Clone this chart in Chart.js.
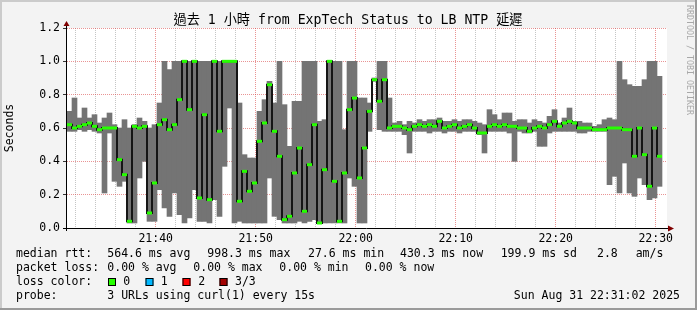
<!DOCTYPE html>
<html><head><meta charset="utf-8">
<script src="https://cdn.jsdelivr.net/npm/chart.js@4/dist/chart.umd.min.js"></script>
<style>html,body{margin:0;padding:0;background:#f3f3f3;overflow:hidden}canvas{display:block}</style>
</head><body>
<canvas id="c" width="697" height="310"></canvas>
<script>
// time axis: minutes after 21:00, one column every 30 s
const startMinute = 31.13;
const stepMinute = 0.5;
const spanMinutes = 60;

const smokeMin = [
 0.58,0.58,0.59,0.58,0.59,0.58,0.57,0.21,0.57,0.28,
 0.25,0.28,0.03,0.03,0.30,0.40,0.04,0.04,0.23,0.12,
 0.07,0.21,0.08,0.03,0.06,0.23,0.04,0.04,0.03,0.17,
 0.07,0.37,0.72,0.03,0.04,0.03,0.03,0.03,0.03,0.03,
 0.30,0.07,0.05,0.03,0.03,0.03,0.04,0.03,0.04,0.05,
 0.03,0.03,0.03,0.03,0.03,0.03,0.30,0.25,0.03,0.03,
 0.58,0.88,0.59,0.58,0.58,
 0.58,0.58,0.56,0.45,0.58,0.58,0.58,0.57,0.58,0.58,
 0.57,0.58,0.58,0.57,0.58,0.58,0.58,0.56,0.45,0.58,
 0.58,0.58,0.58,0.57,0.40,0.58,0.57,0.57,0.58,0.49,
 0.49,0.57,0.58,0.58,0.58,0.58,0.58,0.57,0.57,0.58,
 0.58,0.58,0.58,0.26,0.31,0.21,0.39,0.21,0.19,0.30,
 0.26,0.17,0.18,0.25
];
const smokeMax = [
 0.70,0.78,0.66,0.72,0.66,0.68,0.63,0.66,0.69,0.62,
 0.60,0.65,0.60,0.62,0.66,0.64,0.60,0.62,0.75,1.00,
 0.95,1.00,1.00,1.00,1.00,1.00,1.00,1.00,1.00,1.00,
 1.00,1.00,1.00,1.00,0.75,0.44,0.42,0.42,0.70,0.77,
 0.88,0.75,1.00,0.74,0.49,0.76,0.76,1.00,1.00,1.00,
 0.64,0.65,1.00,1.00,1.00,0.59,1.00,1.00,0.78,0.78,
 0.75,0.90,1.00,1.00,0.78,
 0.63,0.64,0.62,0.64,0.63,0.65,0.64,0.65,0.65,0.66,
 0.64,0.64,0.65,0.64,0.65,0.65,0.64,0.63,0.62,0.71,
 0.68,0.65,0.69,0.69,0.64,0.65,0.65,0.63,0.65,0.64,
 0.63,0.67,0.71,0.63,0.66,0.72,0.64,0.64,0.63,0.63,
 0.61,0.62,0.65,0.66,0.65,1.00,0.89,0.86,0.85,0.85,
 0.89,1.00,1.00,0.91
];
const medianRtt = [
 0.62,0.60,0.61,0.62,0.63,0.61,0.59,0.60,0.60,0.60,
 0.41,0.32,0.04,0.61,0.60,0.61,0.09,0.27,0.62,0.65,
 0.59,0.62,0.77,1.00,0.71,1.00,0.18,0.68,0.17,1.00,
 0.58,1.00,1.00,1.00,0.16,0.34,0.22,0.27,0.52,0.63,
 0.86,0.58,0.43,0.05,0.07,0.33,0.48,0.10,0.38,0.62,
 0.03,0.35,1.00,0.28,0.04,0.33,0.71,0.78,0.30,0.48,
 0.70,0.89,0.76,0.89,0.60,
 0.61,0.61,0.60,0.59,0.61,0.62,0.61,0.62,0.61,0.64,
 0.60,0.61,0.62,0.60,0.61,0.62,0.60,0.57,0.57,0.61,
 0.62,0.61,0.62,0.61,0.61,0.60,0.60,0.58,0.60,0.61,
 0.60,0.62,0.64,0.61,0.63,0.64,0.63,0.60,0.60,0.60,
 0.59,0.59,0.59,0.60,0.60,0.60,0.59,0.59,0.43,0.60,
 0.44,0.25,0.60,0.43
];
const xTickMinutes = [32,34,36,38,40,42,44,46,48,50,52,54,56,58,60,62,64,66,68,70,72,74,76,78,80,82,84,86,88,90];
const xTickLabels = {40:'21:40',50:'21:50',60:'22:00',70:'22:10',80:'22:20',90:'22:30'};
const yTickValues = [0,0.1,0.2,0.3,0.4,0.5,0.6,0.7,0.8,0.9,1.0,1.1,1.2];

const titleText = '過去 1 小時 from ExpTech Status to LB NTP 延遲';
const legendRows = [
 [[16,'median rtt:'],[107.3,'564.6 ms avg'],[207.3,'998.3 ms max'],[308,'27.6 ms min'],[400,'430.3 ms now'],[500.7,'199.9 ms sd'],[597,'2.8'],[635.7,'am/s']],
 [[16,'packet loss:'],[107.3,'0.00 % avg'],[193.3,'0.00 % max'],[279.3,'0.00 % min'],[365,'0.00 % now']],
 [[16,'loss color:'],[123.3,'0'],[160.7,'1'],[198.3,'2'],[235,'3/3']],
 [[16,'probe:'],[107.3,'3 URLs using curl(1) every 15s']]
];
const lossBoxes = [[108,'#26ff00'],[145.5,'#00b8ff'],[182.5,'#ff0000'],[219.5,'#a10000']];
const stampText = 'Sun Aug 31 22:31:02 2025';

const times = smokeMin.map((_, i) => startMinute + stepMinute * (i + 0.5));
const MONO = '"DejaVu Sans Mono", "Noto Sans CJK TC", monospace';
const GRID_MINOR = 'rgba(150,150,150,0.55)';
const GRID_MAJOR = 'rgba(215,60,60,0.55)';

const decor = {
  id: 'decor',
  beforeDraw(chart) {
    const ctx = chart.ctx, a = chart.chartArea;
    ctx.save();
    ctx.fillStyle = '#f3f3f3'; ctx.fillRect(0, 0, 697, 310);
    ctx.fillStyle = '#cbcbcb'; ctx.fillRect(0, 0, 697, 2); ctx.fillRect(0, 0, 2, 310);
    ctx.fillStyle = '#9a9a9a'; ctx.fillRect(0, 308, 697, 2); ctx.fillRect(695, 0, 2, 310);
    ctx.fillStyle = '#ffffff'; ctx.fillRect(a.left, a.top, a.right - a.left, a.bottom - a.top);
    ctx.restore();
  },
  afterDraw(chart) {
    const ctx = chart.ctx, a = chart.chartArea;
    ctx.save();
    // axes
    ctx.strokeStyle = '#000'; ctx.lineWidth = 1;
    ctx.beginPath();
    ctx.moveTo(a.left - 0.5, a.bottom + 3); ctx.lineTo(a.left - 0.5, a.top - 5);
    ctx.moveTo(a.left - 4, a.bottom + 0.5); ctx.lineTo(a.right + 3, a.bottom + 0.5);
    ctx.stroke();
    ctx.fillStyle = '#800000';
    ctx.beginPath();
    ctx.moveTo(a.left - 3.5, a.top - 2); ctx.lineTo(a.left + 2.5, a.top - 2); ctx.lineTo(a.left - 0.5, a.top - 7); ctx.closePath(); ctx.fill();
    ctx.beginPath();
    ctx.moveTo(a.right + 1, a.bottom - 2.5); ctx.lineTo(a.right + 1, a.bottom + 3.5); ctx.lineTo(a.right + 7, a.bottom + 0.5); ctx.closePath(); ctx.fill();
    // title
    ctx.fillStyle = '#000';
    ctx.font = '13.2px ' + MONO;
    ctx.textBaseline = 'middle'; ctx.textAlign = 'center';
    ctx.fillText(titleText, 348, 21);
    // legend
    ctx.font = '11.5px ' + MONO; ctx.textAlign = 'left';
    const rowY = [254, 268, 282, 296];
    legendRows.forEach((row, r) => row.forEach(([x, t]) => ctx.fillText(t, x, rowY[r])));
    lossBoxes.forEach(([x, c]) => {
      ctx.fillStyle = c; ctx.fillRect(x, 278, 8, 8);
      ctx.strokeStyle = '#000'; ctx.strokeRect(x + 0.5, 278.5, 7, 7);
    });
    ctx.fillStyle = '#000'; ctx.textAlign = 'right';
    ctx.fillText(stampText, 680, 296);
    // watermark
    ctx.translate(689, 5); ctx.rotate(Math.PI / 2);
    ctx.font = '8.3px ' + MONO; ctx.textAlign = 'left'; ctx.fillStyle = '#a8a8a8';
    ctx.fillText('RRDTOOL / TOBI OETIKER', 0, 0);
    ctx.restore();
  }
};

new Chart(document.getElementById('c'), {
  type: 'bar',
  data: {
    datasets: [
      {
        type: 'line',
        data: times.map((t, i) => ({x: t, y: medianRtt[i]})),
        borderColor: '#151515', borderWidth: 2, stepped: 'middle',
        pointStyle: 'line', pointRadius: 2.5, pointBorderWidth: 3,
        pointBorderColor: '#26ff00', pointBackgroundColor: '#26ff00',
        pointHoverRadius: 2.5, order: 1
      },
      {
        type: 'bar',
        data: times.map((t, i) => ({x: t, y: [smokeMin[i], smokeMax[i]]})),
        backgroundColor: '#747474', borderWidth: 0,
        barPercentage: 1, categoryPercentage: 1, grouped: false, order: 2
      }
    ]
  },
  options: {
    responsive: false, animation: false, devicePixelRatio: 1,
    layout: {padding: {left: 0, top: 28, right: 30, bottom: 0}},
    plugins: {legend: {display: false}, tooltip: {enabled: false}, title: {display: false}},
    scales: {
      x: {
        type: 'linear', min: startMinute, max: startMinute + spanMinutes,
        offset: false, z: 1,
        afterBuildTicks: s => { s.ticks = xTickMinutes.map(v => ({value: v})); },
        afterFit: s => { s.height = 82; },
        ticks: {autoSkip: false, maxRotation: 0, padding: 1, color: '#000',
          font: {family: MONO, size: 11.5},
          callback: v => xTickLabels[v] || ''},
        grid: {offset: false, lineWidth: 1, drawTicks: true, tickLength: 3, tickColor: 'rgba(0,0,0,0)',
          color: c => (c.tick && c.tick.value % 10 === 0) ? GRID_MAJOR : GRID_MINOR},
        border: {display: false, dash: [1, 1]}
      },
      y: {
        type: 'linear', min: 0, max: 1.2, z: 1,
        afterBuildTicks: s => { s.ticks = yTickValues.map(v => ({value: v})); },
        afterFit: s => { s.width = 67; },
        ticks: {padding: 3, color: '#000', font: {family: MONO, size: 11.5},
          callback: v => Number(v).toFixed(1)},
        grid: {lineWidth: 1, color: GRID_MAJOR, drawTicks: true, tickLength: 4, tickColor: '#333'},
        border: {display: false, dash: [1, 1]},
        title: {display: true, text: 'Seconds', color: '#000', font: {family: MONO, size: 11.5},
          padding: {top: 3, bottom: 0}}
      }
    }
  },
  plugins: [decor]
});
</script>
</body></html>
